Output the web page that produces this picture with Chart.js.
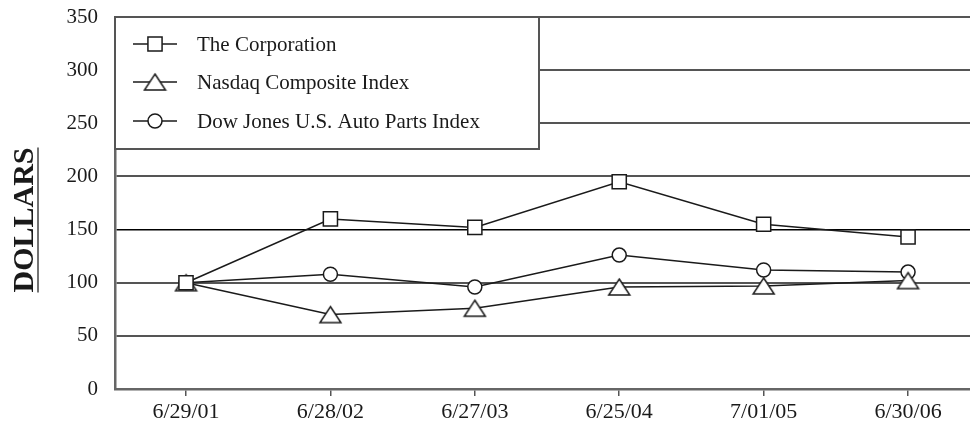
<!DOCTYPE html>
<html><head><meta charset="utf-8">
<script src="https://cdn.jsdelivr.net/npm/chart.js@4/dist/chart.umd.min.js"></script>
<style>html,body{margin:0;padding:0;background:#fff}#wrap{width:970px;height:428px;position:relative}</style>
</head><body><div id="wrap"><canvas id="c" width="970" height="428"></canvas></div>
<script>
const categories = ['6/29/01','6/28/02','6/27/03','6/25/04','7/01/05','6/30/06'];
const corporation = [100,160,152,195,155,143];
const nasdaq = [100,70,76,96,97,102];
const dowJones = [100,108,96,126,112,110];
const yTicks = [0,50,100,150,200,250,300,350];
const seriesNames = ['The Corporation','Nasdaq Composite Index','Dow Jones U.S. Auto Parts Index'];
const yTitle = 'DOLLARS';

const FONT = '"Liberation Serif", "Times New Roman", serif';
const INK = '#1a1a1a';

// triangle marker centred on its bounding box
function makeTriangle(){
  const w = 21, h = 16, pad = 2;
  const cv = document.createElement('canvas');
  cv.width = w + pad*2; cv.height = h + pad*2;
  const c = cv.getContext('2d');
  c.beginPath();
  c.moveTo(pad + w/2, pad);
  c.lineTo(pad + w, pad + h);
  c.lineTo(pad, pad + h);
  c.closePath();
  c.fillStyle = '#fff'; c.fill();
  c.lineWidth = 1.5; c.strokeStyle = INK; c.lineJoin = 'miter'; c.stroke();
  return cv;
}
const triangleImg = makeTriangle();

function pts(arr){ return arr.map((v,i)=>({x:i,y:v})); }
function ds(label, arr, style, radius, order){
  return {label, data: pts(arr), order, borderColor: INK, borderWidth: 1.5, tension: 0,
    pointStyle: style, pointRadius: radius, pointHoverRadius: radius,
    pointBackgroundColor: '#fff', pointBorderColor: INK, pointBorderWidth: 1.5};
}

function drawMarker(ctx, style, r, x, y){
  if (style instanceof HTMLCanvasElement){
    ctx.drawImage(style, x - style.width/2, y - style.height/2);
    return;
  }
  ctx.beginPath();
  if (style === 'rect'){ const s = Math.SQRT1_2*r; ctx.rect(x-s,y-s,2*s,2*s); }
  else if (style === 'circle'){ ctx.arc(x,y,r,0,Math.PI*2); }
  ctx.fillStyle='#fff'; ctx.fill(); ctx.lineWidth=1.5; ctx.strokeStyle=INK; ctx.stroke();
}

const overlay = {
  id: 'overlay',
  afterDatasetsDraw(chart){
    const ctx = chart.ctx, a = chart.chartArea;
    ctx.save();
    // legend box
    const bx = a.left, by = a.top, bw = 424, bh = 132;
    ctx.fillStyle = '#fff'; ctx.fillRect(bx, by, bw, bh);
    ctx.strokeStyle = '#555'; ctx.lineWidth = 2; ctx.strokeRect(bx, by, bw, bh);
    const rows = [44, 82, 121];
    chart.data.datasets.forEach((d, i) => {
      const y = rows[i];
      ctx.beginPath(); ctx.moveTo(133, y); ctx.lineTo(177, y);
      ctx.strokeStyle = INK; ctx.lineWidth = 1.5; ctx.stroke();
      drawMarker(ctx, d.pointStyle, d.pointRadius, 155, y);
      ctx.fillStyle = INK; ctx.font = '21px ' + FONT;
      ctx.textAlign = 'left'; ctx.textBaseline = 'middle';
      ctx.fillText(d.label, 197, y + 1);
    });
    // y title with underline
    ctx.translate(33, 220); ctx.rotate(-Math.PI/2);
    ctx.font = 'bold 30px ' + FONT; ctx.fillStyle = INK;
    ctx.textAlign = 'center'; ctx.textBaseline = 'alphabetic';
    ctx.fillText(yTitle, 0, 0);
    const w = ctx.measureText(yTitle).width;
    ctx.beginPath(); ctx.moveTo(-w/2, 5); ctx.lineTo(w/2, 5);
    ctx.strokeStyle = '#444'; ctx.lineWidth = 1.5; ctx.stroke();
    ctx.restore();
  }
};

new Chart(document.getElementById('c'), {
  type: 'line',
  data: { datasets: [
    ds(seriesNames[0], corporation, 'rect', 10, 0),
    ds(seriesNames[1], nasdaq, triangleImg, 10, 1),
    ds(seriesNames[2], dowJones, 'circle', 7, 2)
  ]},
  options: {
    responsive: false, animation: false, devicePixelRatio: 1,
    layout: { autoPadding: false, padding: { top: 17, left: 0, right: 0, bottom: 0 } },
    plugins: { legend: { display: false }, tooltip: { enabled: false } },
    scales: {
      x: {
        type: 'linear', min: -0.4917, max: 5.429,
        afterBuildTicks: s => { s.ticks = categories.map((c, i) => ({ value: i })); },
        afterFit: s => { s.height = 39; s.paddingLeft = 0; s.paddingRight = 0; },
        ticks: { autoSkip: false, maxRotation: 0, padding: 3, color: INK,
          font: { family: FONT, size: 22 }, callback: v => categories[v] },
        grid: { drawOnChartArea: false, drawTicks: true, tickLength: 7, color: '#555', lineWidth: 1.5 },
        border: { display: true, color: '#666', width: 2.5 }
      },
      y: {
        min: 0, max: 350,
        afterBuildTicks: s => { s.ticks = yTicks.map(v => ({ value: v })); },
        afterFit: s => { s.width = 115; s.paddingTop = 0; s.paddingBottom = 0; },
        ticks: { padding: 17, color: INK, font: { family: FONT, size: 21 } },
        grid: { drawTicks: false,
          color: c => c.tick && c.tick.value === 150 ? '#000' : '#555',
          lineWidth: c => c.tick && c.tick.value === 150 ? 1.5 : 2 },
        border: { display: true, color: '#666', width: 2.5 }
      }
    }
  },
  plugins: [overlay]
});
</script></body></html>
